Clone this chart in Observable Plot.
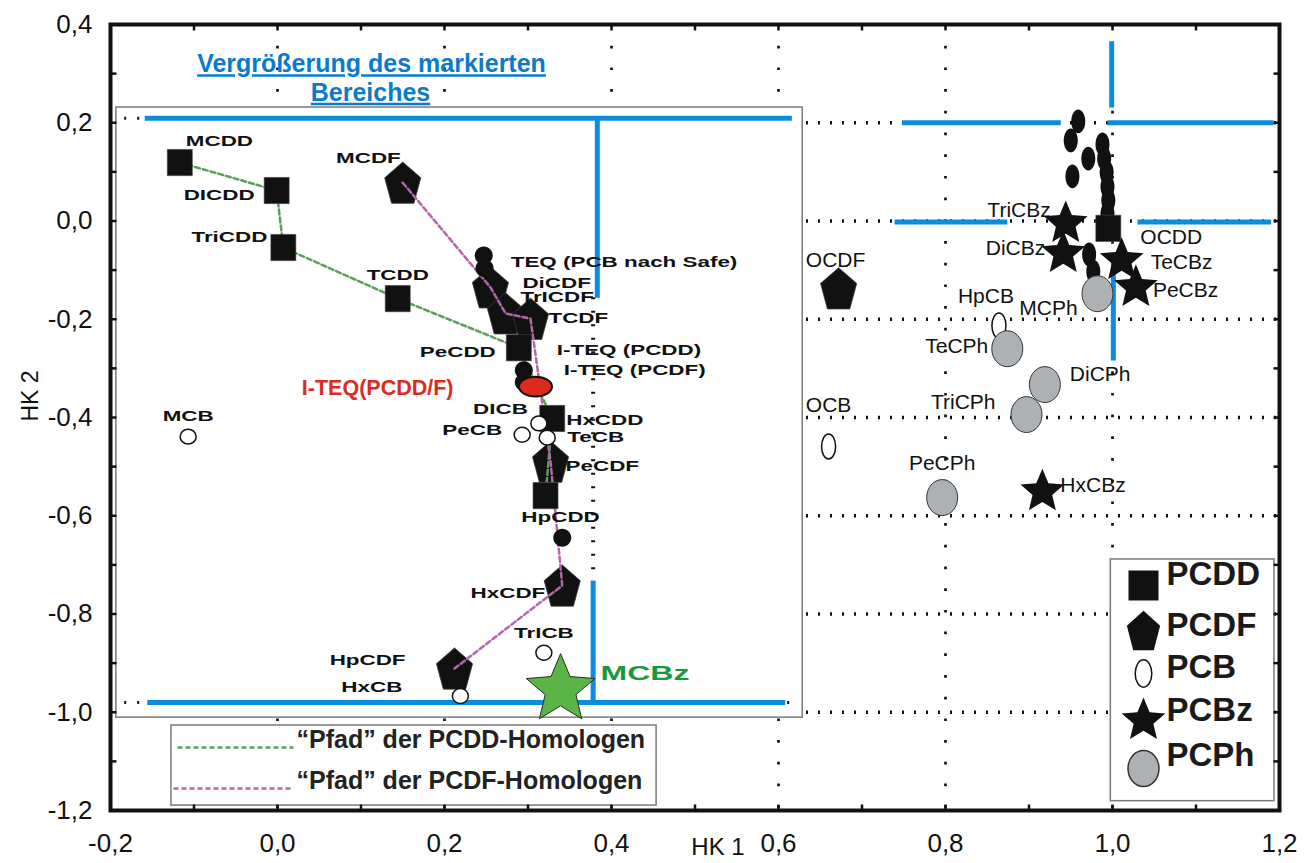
<!DOCTYPE html>
<html>
<head>
<meta charset="utf-8">
<script src="https://cdn.jsdelivr.net/npm/d3@7"></script>
<script src="https://cdn.jsdelivr.net/npm/@observablehq/plot@0.6"></script>
<style>
html,body{margin:0;padding:0;background:#fff;}
</style>
</head>
<body>
<div id="chart"></div>
<script>
// ================= DATA =================
const xDomain = [-0.2, 1.2];
const yDomain = [-1.2, 0.4];
const xTicks = [-0.2, 0, 0.2, 0.4, 0.6, 0.8, 1.0, 1.2];
const yTicks = [0.4, 0.2, 0, -0.2, -0.4, -0.6, -0.8, -1.0, -1.2];
const xMinor = [-0.1, 0.1, 0.3, 0.5, 0.7, 0.9, 1.1];
const yMinor = [0.3, 0.1, -0.1, -0.3, -0.5, -0.7, -0.9, -1.1];
const xGrid = [0, 0.2, 0.4, 0.6, 0.8, 1.0];
const yGrid = [0.2, 0, -0.2, -0.4, -0.6, -0.8, -1.0];

const pcddNames = ["MCDD", "DICDD", "TriCDD", "TCDD", "PeCDD", "HxCDD", "HpCDD", "OCDD"];
const pcddHK1 = [-0.117, -0.001, 0.007, 0.144, 0.289, 0.329, 0.321, 0.995];
const pcddHK2 = [0.119, 0.062, -0.054, -0.158, -0.258, -0.402, -0.559, -0.015];

const pcdfNames = ["MCDF", "DiCDF", "TrICDF", "TCDF", "PeCDF", "HxCDF", "HpCDF", "OCDF"];
const pcdfHK1 = [0.150, 0.255, 0.273, 0.303, 0.327, 0.341, 0.212, 0.672];
const pcdfHK2 = [0.078, -0.135, -0.188, -0.199, -0.490, -0.742, -0.911, -0.137];

const pcbNames = ["MCB", "DICB", "PeCB", "TeCB", "TrICB", "HxCB", "HpCB", "OCB"];
const pcbHK1 = [-0.107, 0.313, 0.293, 0.323, 0.319, 0.219, 0.864, 0.660];
const pcbHK2 = [-0.439, -0.412, -0.435, -0.441, -0.879, -0.967, -0.213, -0.459];

const pcbzNames = ["MCBz", "TriCBz", "DiCBz", "TeCBz", "PeCBz", "HxCBz"];
const pcbzHK1 = [0.339, 0.944, 0.941, 1.011, 1.028, 0.916];
const pcbzHK2 = [-0.954, -0.005, -0.066, -0.080, -0.135, -0.551];

const pcphNames = ["MCPh", "TeCPh", "DiCPh", "TriCPh", "PeCPh"];
const pcphHK1 = [0.982, 0.874, 0.919, 0.897, 0.796];
const pcphHK2 = [-0.148, -0.260, -0.333, -0.394, -0.563];

const teqNames = ["TEQ (PCB nach Safe)", "", "I-TEQ (PCDD)", "I-TEQ (PCDF)", ""];
const teqHK1 = [0.247, 0.248, 0.295, 0.295, 0.341];
const teqHK2 = [-0.070, -0.096, -0.304, -0.328, -0.645];

const iteqTotalName = ["I-TEQ(PCDD/F)"];
const iteqTotalHK1 = [0.309];
const iteqTotalHK2 = [-0.337];

const clusterHK1 = [0.959, 0.950, 0.952, 0.971, 0.988, 0.990, 0.993, 0.994, 0.995, 0.994, 0.972, 0.977];
const clusterHK2 = [0.203, 0.164, 0.091, 0.127, 0.156, 0.127, 0.099, 0.070, 0.042, 0.015, -0.068, -0.103];

const pcddPath = ["MCDD", "DICDD", "TriCDD", "TCDD", "PeCDD", "HxCDD", "HpCDD"];
const pcdfPath = ["MCDF", "DiCDF", "TrICDF", "TCDF", "PeCDF", "HxCDF", "HpCDF"];

const seriesNames = ["PCDD", "PCDF", "PCB", "PCBz", "PCPh"];
const pathLegend = ["\u201CPfad\u201D der PCDD-Homologen", "\u201CPfad\u201D der PCDF-Homologen"];
const titleLines = ["Vergr\u00F6\u00DFerung des markierten", "Bereiches"];

// marked-region annotations (HK1/HK2 units)
const insetBox = [{x1: -0.193, x2: 0.629, y1: 0.231, y2: -1.011}];
const pathLegendBox = [{x1: -0.127, x2: 0.454, y1: -1.027, y2: -1.190}];
const seriesLegendBox = [{x1: 0.998, x2: 1.194, y1: -0.689, y2: -1.181}];
const blueSegs = [
  {x1: -0.159, y1: 0.209, x2: 0.616, y2: 0.209},
  {x1: 0.383, y1: 0.209, x2: 0.383, y2: -0.156},
  {x1: 0.378, y1: -0.732, x2: 0.378, y2: -0.980},
  {x1: -0.156, y1: -0.980, x2: 0.608, y2: -0.980},
  {x1: 0.999, y1: 0.366, x2: 0.999, y2: 0.231},
  {x1: 0.748, y1: 0.200, x2: 0.938, y2: 0.200},
  {x1: 0.994, y1: 0.200, x2: 1.193, y2: 0.200},
  {x1: 0.739, y1: -0.002, x2: 0.874, y2: -0.002},
  {x1: 1.030, y1: -0.002, x2: 1.190, y2: -0.002},
  {x1: 1.001, y1: -0.086, x2: 1.001, y2: -0.284}
];
const insetGridY = [0.209, -0.980];
const insetGridX = [0.378];

// ================= STYLE / LAYOUT =================
const BLACK = "#111111";
const BLUE = "#0a8de0";
const TITLE_BLUE = "#0a7bcc";
const GREEN_PATH = "#5c9f5c";
const MAGENTA_PATH = "#b466a9";
const GREY = "#aeb1b3";
const RED = "#dc2b1c";
const MCBZ_FILL = "#5ab446";
const MCBZ_TEXT = "#17993c";
const FONT = "'Liberation Sans', Arial, sans-serif";

// label offsets in px: [dx, dy, anchor, style]
const labelLayout = {
  "MCDD": [6, -21, "start", "in"], "DICDD": [-22, 5, "end", "in"], "TriCDD": [-16, -10, "end", "in"],
  "TCDD": [0, -23, "middle", "in"], "PeCDD": [-23, 5, "end", "in"], "HxCDD": [14, 2, "start", "in"],
  "HpCDD": [15, 22, "middle", "in"], "OCDD": [32, 9, "start", "out"],
  "MCDF": [-2, -24, "end", "in"], "DiCDF": [32, -4, "start", "in"], "TrICDF": [15, -16, "start", "in"],
  "TCDF": [18, 0, "start", "in"], "PeCDF": [15, 5, "start", "in"], "HxCDF": [-17, 8, "end", "in"],
  "HpCDF": [-49, -8, "end", "in"], "OCDF": [-3, -28, "middle", "out"],
  "MCB": [0, -20, "middle", "in"], "DICB": [-11, -14, "end", "in"], "PeCB": [-20, -4, "end", "in"],
  "TeCB": [20, 0, "start", "in"], "TrICB": [0, -19, "middle", "in"], "HxCB": [-58, -9, "end", "in"],
  "HpCB": [-13, -29, "middle", "out"], "OCB": [0, -41, "middle", "out"],
  "MCBz": [40, -16, "start", "green"], "TriCBz": [-15, -13, "end", "out"], "DiCBz": [-18, -5, "end", "out"],
  "TeCBz": [29, 2, "start", "out"], "PeCBz": [17, 3, "start", "out"], "HxCBz": [18, -6, "start", "out"],
  "MCPh": [-49, 15, "middle", "out"], "TeCPh": [-19, -2, "end", "out"], "DiCPh": [25, -10, "start", "out"],
  "TriCPh": [-31, -12, "end", "out"], "PeCPh": [0, -34, "middle", "out"],
  "TEQ (PCB nach Safe)": [27, 7, "start", "in"], "I-TEQ (PCDD)": [33, -20, "start", "in"],
  "I-TEQ (PCDF)": [40, -12, "start", "in"], "I-TEQ(PCDD/F)": [-82, 2, "end", "red"]
};
const labelStyles = {
  in: {fontSize: 14, fontWeight: "bold", fill: BLACK},
  out: {fontSize: 21, fill: BLACK},
  green: {fontSize: 20, fontWeight: "bold", fill: MCBZ_TEXT},
  red: {fontSize: 21.5, fontWeight: "bold", fill: RED}
};

// ================= SYMBOLS =================
function rectSym(aspect) {
  return {draw(ctx, size) { const r = Math.sqrt(size / Math.PI), h = r * aspect; ctx.rect(-r, -h, 2 * r, 2 * h); }};
}
function pentSym(aspect) {
  return {draw(ctx, size) {
    const r = Math.sqrt(size / Math.PI);
    const mid = r * aspect * (Math.cos(Math.PI / 5) - 1) / 2;
    for (let k = 0; k < 5; k++) {
      const a = -Math.PI / 2 + k * 2 * Math.PI / 5;
      const x = r * Math.cos(a), y = r * Math.sin(a) * aspect - mid;
      k ? ctx.lineTo(x, y) : ctx.moveTo(x, y);
    }
    ctx.closePath();
  }};
}
function starSym(inner) {
  return {draw(ctx, size) {
    const r = Math.sqrt(size / Math.PI);
    for (let k = 0; k < 10; k++) {
      const a = -Math.PI / 2 + k * Math.PI / 5;
      const rr = k % 2 ? r * inner : r;
      const x = rr * Math.cos(a), y = rr * Math.sin(a);
      k ? ctx.lineTo(x, y) : ctx.moveTo(x, y);
    }
    ctx.closePath();
  }};
}
function ellSym(aspect) {
  return {draw(ctx, size) {
    const rx = Math.sqrt(size / Math.PI), ry = rx * aspect, k = 0.5523;
    ctx.moveTo(rx, 0);
    ctx.bezierCurveTo(rx, ry * k, rx * k, ry, 0, ry);
    ctx.bezierCurveTo(-rx * k, ry, -rx, ry * k, -rx, 0);
    ctx.bezierCurveTo(-rx, -ry * k, -rx * k, -ry, 0, -ry);
    ctx.bezierCurveTo(rx * k, -ry, rx, -ry * k, rx, 0);
    ctx.closePath();
  }};
}
function lineSym(ux, uy) {
  return {draw(ctx, size) { const r = Math.sqrt(size / Math.PI); ctx.moveTo(0, 0); ctx.lineTo(ux * r, uy * r); }};
}

// ================= BUILD =================
const pts = (names, xs, ys) => names.map((n, i) => ({name: n, hk1: xs[i], hk2: ys[i]}));
const pcdd = pts(pcddNames, pcddHK1, pcddHK2);
const pcdf = pts(pcdfNames, pcdfHK1, pcdfHK2);
const pcb = pts(pcbNames, pcbHK1, pcbHK2);
const pcbz = pts(pcbzNames, pcbzHK1, pcbzHK2);
const pcph = pts(pcphNames, pcphHK1, pcphHK2);
const teq = pts(teqNames, teqHK1, teqHK2);
const iteqTotal = pts(iteqTotalName, iteqTotalHK1, iteqTotalHK2);
const cluster = clusterHK1.map((v, i) => ({hk1: v, hk2: clusterHK2[i]}));
const byName = (arr, order) => order.map(n => arr.find(d => d.name === n));
const insetEdge = insetBox[0].x2;

const fmt = v => d3.format(".1f")(v).replace(".", ",").replace("\u2212", "-");
const XY = {x: "hk1", y: "hk2"};
const marks = [];

// dotted grid
marks.push(Plot.ruleY(yGrid, {y: d => d, stroke: BLACK, strokeWidth: 3.5, strokeDasharray: "2,10"}));
marks.push(Plot.ruleX(xGrid, {x: d => d, stroke: BLACK, strokeWidth: 2.7, strokeDasharray: "2.7,19"}));

// inset (magnified region) box
marks.push(Plot.rect(insetBox, {x1: "x1", x2: "x2", y1: "y1", y2: "y2", fill: "white", stroke: "#7a7a7a", strokeWidth: 1.5}));
marks.push(Plot.ruleY(insetGridY, {y: d => d, x1: insetBox[0].x1 + 0.01, x2: insetBox[0].x2 - 0.005, stroke: BLACK, strokeWidth: 3, strokeDasharray: "2,11"}));
marks.push(Plot.ruleX(insetGridX, {x: d => d, y1: blueSegs[1].y2, y2: blueSegs[2].y1, stroke: BLACK, strokeWidth: 4, strokeDasharray: "2,11.5"}));

// blue markers
marks.push(Plot.link(blueSegs, {x1: "x1", y1: "y1", x2: "x2", y2: "y2", stroke: BLUE, strokeWidth: 5}));

// path legend (bottom left)
marks.push(Plot.rect(pathLegendBox, {x1: "x1", x2: "x2", y1: "y1", y2: "y2", fill: "white", stroke: "#7a7a7a", strokeWidth: 1.5}));
[[GREEN_PATH, 67, -63, 116], [MAGENTA_PATH, 63, -22, 119]].forEach(([c, dx, dy, len], i) => {
  marks.push(Plot.dot([pathLegend[i]], {frameAnchor: "bottom-left", dx, dy, symbol: lineSym(1, 0), r: len, fill: "none", stroke: c, strokeWidth: 2.5, strokeDasharray: "5,3"}));
  marks.push(Plot.text([pathLegend[i]], {frameAnchor: "bottom-left", text: d => d, dx: 186, dy: dy, textAnchor: "start", fontSize: 25, fontWeight: "bold", fill: "#222"}));
});

// series legend (bottom right)
marks.push(Plot.rect(seriesLegendBox, {x1: "x1", x2: "x2", y1: "y1", y2: "y2", fill: "white", stroke: "#7a7a7a", strokeWidth: 1.5}));
const legendGlyphs = [
  {symbol: rectSym(1), r: 15, fill: BLACK, stroke: "none", dy: -225, ty: -226},
  {symbol: pentSym(1.25), r: 17.5, fill: BLACK, stroke: "none", dy: -180, ty: -175},
  {symbol: ellSym(1.65), r: 8.3, fill: "white", stroke: BLACK, dy: -137, ty: -133},
  {symbol: starSym(0.45), r: 23, fill: BLACK, stroke: "none", dy: -90, ty: -90},
  {symbol: ellSym(1.16), r: 15.5, fill: GREY, stroke: "#333", dy: -42, ty: -45}
];
legendGlyphs.forEach((g, i) => {
  marks.push(Plot.dot([seriesNames[i]], {frameAnchor: "bottom-right", dx: -136, dy: g.dy, symbol: g.symbol, r: g.r, fill: g.fill, stroke: g.stroke, strokeWidth: 1.5}));
  marks.push(Plot.text([seriesNames[i]], {frameAnchor: "bottom-right", text: d => d, dx: -113, dy: g.ty, textAnchor: "start", fontSize: 33, fontWeight: "bold", fill: "#1a1a1a"}));
});

// PCDF pentagons
marks.push(Plot.dot(pcdf, {...XY, symbol: pentSym(1.2), r: 19, fill: BLACK, stroke: "#3a3a3a", strokeWidth: 0.8}));
// homologue paths
marks.push(Plot.line(byName(pcdd, pcddPath), {...XY, stroke: GREEN_PATH, strokeWidth: 2.5, strokeDasharray: "5,3"}));
marks.push(Plot.line(byName(pcdf, pcdfPath), {...XY, stroke: MAGENTA_PATH, strokeWidth: 2.5, strokeDasharray: "5,3"}));
// right cluster of black ellipses
marks.push(Plot.dot(cluster, {...XY, symbol: ellSym(1.7), r: 7, fill: BLACK}));
// PCDD squares
marks.push(Plot.dot(pcdd, {...XY, symbol: rectSym(1.05), r: 12.5, fill: BLACK, stroke: "#444", strokeWidth: 0.6}));
// PCB
marks.push(Plot.dot(pcb.filter(d => d.hk1 < insetEdge), {...XY, symbol: ellSym(0.93), r: 8, fill: "white", stroke: BLACK, strokeWidth: 1.5}));
marks.push(Plot.dot(pcb.filter(d => d.hk1 >= insetEdge), {...XY, symbol: ellSym(1.8), r: 7, fill: "white", stroke: BLACK, strokeWidth: 1.5}));
// TEQ circles
marks.push(Plot.dot(teq, {...XY, symbol: ellSym(1), r: 9, fill: BLACK}));
marks.push(Plot.dot(iteqTotal, {...XY, symbol: ellSym(0.6), r: 16.5, fill: RED, stroke: BLACK, strokeWidth: 2}));
// PCPh
marks.push(Plot.dot(pcph, {...XY, symbol: ellSym(1.16), r: 15.5, fill: GREY, stroke: "#333", strokeWidth: 1}));
// PCBz stars
marks.push(Plot.dot(pcbz.filter(d => d.name !== "MCBz"), {...XY, symbol: starSym(0.45), r: 23, fill: BLACK}));
marks.push(Plot.dot(pcbz.filter(d => d.name === "MCBz"), {...XY, symbol: starSym(0.45), r: 36, fill: MCBZ_FILL, stroke: "#2a2a2a", strokeWidth: 1}));

// point labels
const stretchSet = new Set();
const labelled = [...pcdd, ...pcdf, ...pcb, ...pcbz, ...pcph, ...teq.filter(d => d.name), ...iteqTotal];
for (const p of labelled) {
  const L = labelLayout[p.name];
  if (!L) continue;
  const [dx, dy, anchor, kind] = L;
  if (kind === "in" || kind === "green") stretchSet.add(p.name);
  marks.push(Plot.text([p], {...XY, text: "name", dx, dy, textAnchor: anchor, ...labelStyles[kind]}));
}

// title inside plot
marks.push(Plot.text([titleLines[0]], {frameAnchor: "top-left", text: d => d, dx: 261, dy: 30, textAnchor: "middle", fontSize: 25, fontWeight: "bold", fill: TITLE_BLUE}));
marks.push(Plot.text([titleLines[1]], {frameAnchor: "top-left", text: d => d, dx: 260, dy: 58.5, textAnchor: "middle", fontSize: 25, fontWeight: "bold", fill: TITLE_BLUE}));

// axis titles
marks.push(Plot.text(["HK 1"], {frameAnchor: "bottom", text: d => d, dx: 23, dy: 44, lineAnchor: "bottom", fontSize: 24, fill: BLACK}));
marks.push(Plot.text(["HK 2"], {frameAnchor: "left", text: d => d, dx: -80, dy: 4, rotate: -90, fontSize: 23, fill: BLACK}));

// frame and inward ticks
marks.push(Plot.frame({stroke: BLACK, strokeWidth: 4}));
const xAll = [...xTicks, ...xMinor];
const yAll = [...yTicks, ...yMinor];
marks.push(Plot.dot(xAll, {x: d => d, y: () => yDomain[0], symbol: lineSym(0, -1), r: 6, stroke: BLACK, strokeWidth: 2.5, fill: "none"}));
marks.push(Plot.dot(xAll, {x: d => d, y: () => yDomain[1], symbol: lineSym(0, 1), r: 6, stroke: BLACK, strokeWidth: 2.5, fill: "none"}));
marks.push(Plot.dot(yAll, {y: d => d, x: () => xDomain[0], symbol: lineSym(1, 0), r: 6, stroke: BLACK, strokeWidth: 2.5, fill: "none"}));
marks.push(Plot.dot(yAll, {y: d => d, x: () => xDomain[1], symbol: lineSym(-1, 0), r: 6, stroke: BLACK, strokeWidth: 2.5, fill: "none"}));

const chart = Plot.plot({
  width: 1313,
  height: 863,
  marginLeft: 110,
  marginRight: 34,
  marginTop: 24,
  marginBottom: 53,
  style: {fontFamily: FONT, fontSize: "26px", color: BLACK, background: "white"},
  x: {domain: xDomain, ticks: xTicks, tickFormat: fmt, tickSize: 0, tickPadding: 23, label: null},
  y: {domain: yDomain, ticks: yTicks, tickFormat: fmt, tickSize: 0, tickPadding: 18, label: null},
  marks
});
document.getElementById("chart").append(chart);

// enlarge axis tick labels, stretch the magnified-region labels, underline the title
const tickStrings = new Set([...xTicks, ...yTicks].map(fmt));
d3.select(chart).selectAll("text").each(function () {
  const t = this.textContent;
  if (tickStrings.has(t)) this.style.fontSize = "26px";
  if (stretchSet.has(t)) {
    const L = this.getComputedTextLength();
    this.setAttribute("textLength", (L * 1.6).toFixed(1));
    this.setAttribute("lengthAdjust", "spacingAndGlyphs");
  }
  if (titleLines.includes(t)) this.setAttribute("text-decoration", "underline");
});
</script>
</body>
</html>
